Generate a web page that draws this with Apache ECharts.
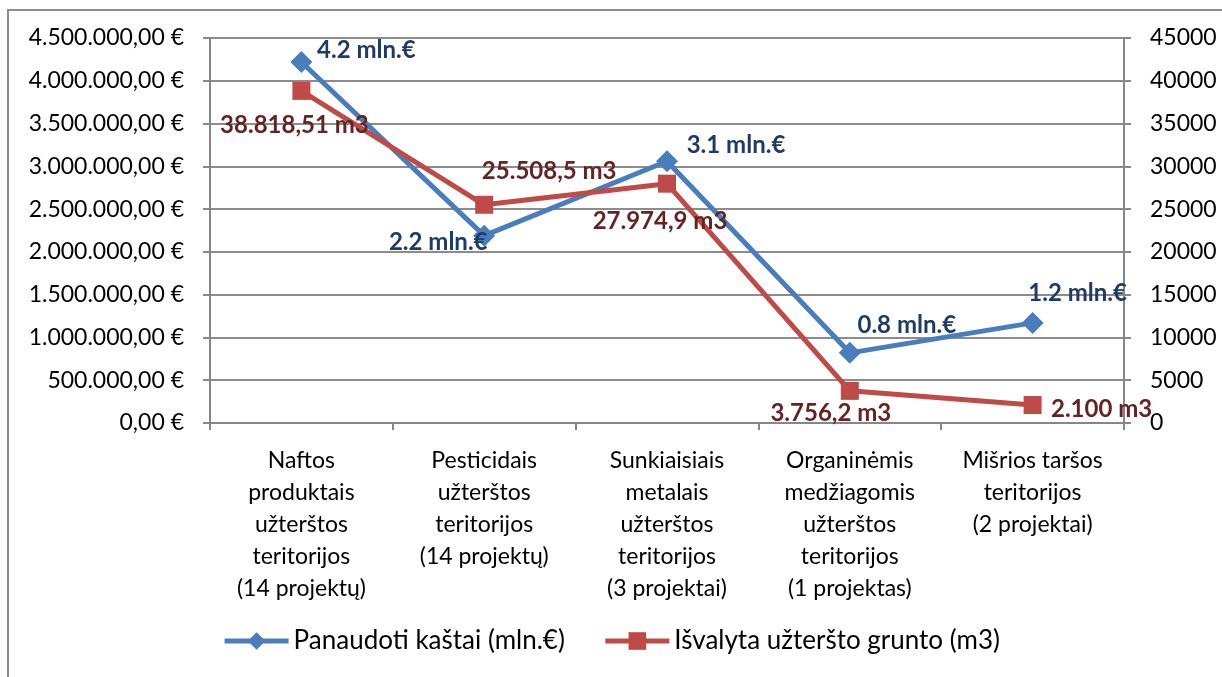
<!DOCTYPE html>
<meta charset="utf-8">
<title>Užterštos teritorijos</title>
<style>
body { margin: 0; background: #fff; }
#main { width: 1222px; height: 677px; }
</style>
<body>
<div id="main"></div>
<script src="https://cdn.jsdelivr.net/npm/echarts@6/dist/echarts.min.js"></script>
<script>
// kategorijos ir duomenys
var categories = [
  'Naftos\nproduktais\nužterštos\nteritorijos\n(14 projektų)',
  'Pesticidais\nužterštos\nteritorijos\n(14 projektų)',
  'Sunkiaisiais\nmetalais\nužterštos\nteritorijos\n(3 projektai)',
  'Organinėmis\nmedžiagomis\nužterštos\nteritorijos\n(1 projektas)',
  'Mišrios taršos\nteritorijos\n(2 projektai)'
];
var costs = [4220000, 2190000, 3060000, 820000, 1170000];
var costLabels = ['4.2 mln.€', '2.2 mln.€', '3.1 mln.€', '0.8 mln.€', '1.2 mln.€'];
var soil = [38818.51, 25508.5, 27974.9, 3756.2, 2100];
var soilLabels = ['38.818,51 m3', '25.508,5 m3', '27.974,9 m3', '3.756,2 m3', '2.100 m3'];

// etikečių poslinkiai nuo taško
var costOffsets = [[65, -12], [-46, 7], [69, -16], [57, -28], [45, -30]];
var soilOffsets = [[-7, 34], [65, -33], [-7, 38], [-19, 22], [69, 4]];

var font = 'Lato, "Open Sans", sans-serif';

function eur(v) {
  var s = String(Math.round(v)).replace(/\B(?=(\d{3})+(?!\d))/g, '.');
  return s + ',00 €';
}

function build(vals, texts, offsets, color) {
  return vals.map(function (v, i) {
    return {
      value: v,
      label: {
        show: true,
        position: 'inside',
        offset: offsets[i],
        formatter: texts[i],
        color: color,
        fontFamily: font,
        fontWeight: 'bold',
        fontSize: 24
      }
    };
  });
}

var myChart = echarts.init(document.getElementById('main'));
var option = {
  animation: false,
  textStyle: { fontFamily: font },
  graphic: [{
    type: 'rect',
    shape: { x: 8, y: 10, width: 1240, height: 700 },
    style: { fill: 'none', stroke: '#8c8c8c', lineWidth: 2 },
    silent: true
  }],
  grid: { left: 210, right: 98, top: 38, bottom: 254 },
  legend: {
    top: 623,
    left: 'center',
    itemWidth: 64,
    itemHeight: 22,
    itemGap: 38,
    lineStyle: { width: 5 },
    textStyle: { fontSize: 26, color: '#000', fontFamily: font },
    data: ['Panaudoti kaštai (mln.€)', 'Išvalyta užteršto grunto (m3)']
  },
  xAxis: {
    type: 'category',
    data: categories,
    boundaryGap: true,
    axisLine: { lineStyle: { color: '#868686', width: 2 } },
    axisTick: { show: true, length: 7, lineStyle: { color: '#868686', width: 2 } },
    axisLabel: {
      interval: 0,
      margin: 22,
      fontSize: 23,
      lineHeight: 32,
      color: '#000',
      fontFamily: font
    }
  },
  yAxis: [{
    type: 'value',
    min: 0,
    max: 4500000,
    interval: 500000,
    axisLine: { show: true, lineStyle: { color: '#868686', width: 2 } },
    axisTick: { show: true, length: 7, lineStyle: { color: '#868686', width: 2 } },
    splitLine: { lineStyle: { color: '#8c8c8c', width: 2 } },
    axisLabel: { formatter: eur, fontSize: 23, color: '#000', margin: 26, fontFamily: font }
  }, {
    type: 'value',
    min: 0,
    max: 45000,
    interval: 5000,
    position: 'right',
    axisLine: { show: true, lineStyle: { color: '#868686', width: 2 } },
    axisTick: { show: true, length: 7, lineStyle: { color: '#868686', width: 2 } },
    splitLine: { show: false },
    axisLabel: {
      formatter: function (v) { return String(v); },
      fontSize: 23, color: '#000', margin: 26, fontFamily: font
    }
  }],
  series: [{
    name: 'Panaudoti kaštai (mln.€)',
    type: 'line',
    yAxisIndex: 0,
    symbol: 'diamond',
    symbolSize: 22,
    lineStyle: { color: '#4a7ebb', width: 5 },
    itemStyle: { color: '#4a7ebb' },
    data: build(costs, costLabels, costOffsets, '#1f3b63')
  }, {
    name: 'Išvalyta užteršto grunto (m3)',
    type: 'line',
    yAxisIndex: 1,
    symbol: 'rect',
    symbolSize: 18,
    lineStyle: { color: '#be4b48', width: 5 },
    itemStyle: { color: '#be4b48' },
    data: build(soil, soilLabels, soilOffsets, '#632523')
  }]
};
myChart.setOption(option);
</script>
</body>
